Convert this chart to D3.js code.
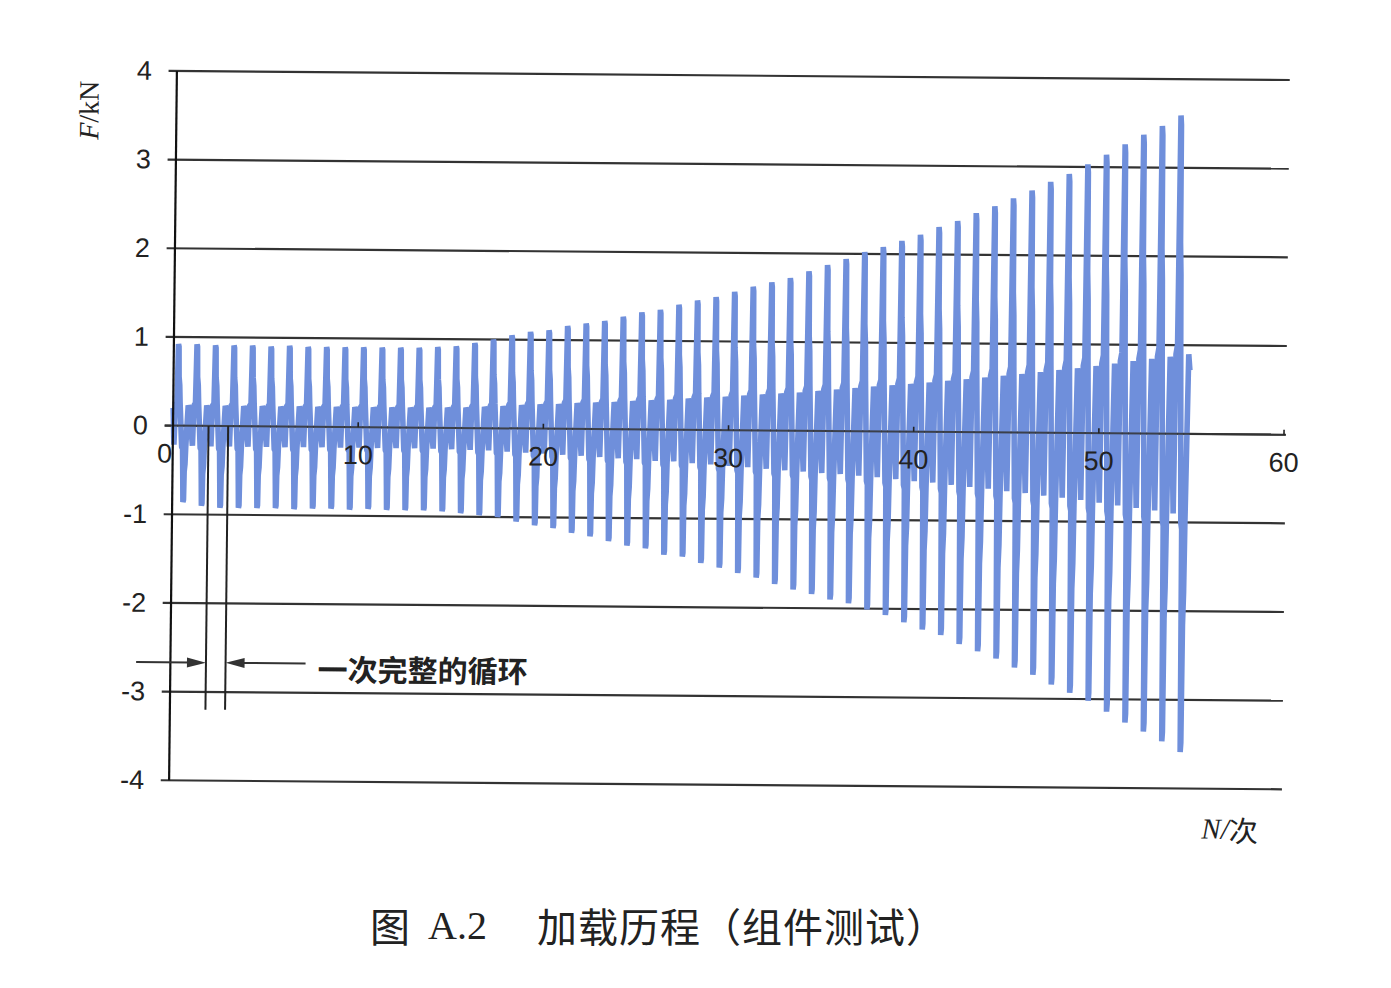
<!DOCTYPE html>
<html><head><meta charset="utf-8">
<script src="https://cdn.jsdelivr.net/npm/d3@7"></script>
<style>body{margin:0;background:#fff} svg{display:block}</style>
</head><body><svg id="c" width="1391" height="988"></svg>
<script>
// ---- data ----
const cycleIndex = d3.range(55); // loading cycles N = 0..54
const peakValues = [0.92,0.92,0.91,0.91,0.91,0.90,0.91,0.90,0.90,0.90,0.90,0.90,0.90,0.90,0.91,0.92,0.96,1.00,1.05,1.09,1.11,1.16,1.19,1.22,1.27,1.32,1.35,1.41,1.46,1.50,1.56,1.62,1.67,1.72,1.80,1.87,1.94,2.02,2.08,2.15,2.22,2.31,2.38,2.47,2.55,2.64,2.73,2.83,2.92,3.03,3.14,3.26,3.37,3.47,3.59];
const troughValues = [-0.86,-0.90,-0.92,-0.92,-0.92,-0.92,-0.93,-0.92,-0.92,-0.93,-0.92,-0.93,-0.93,-0.93,-0.94,-0.96,-0.98,-1.00,-1.05,-1.09,-1.12,-1.17,-1.21,-1.26,-1.31,-1.34,-1.41,-1.43,-1.50,-1.55,-1.61,-1.66,-1.73,-1.79,-1.84,-1.90,-1.94,-2.01,-2.07,-2.15,-2.23,-2.29,-2.39,-2.47,-2.55,-2.65,-2.73,-2.84,-2.93,-3.02,-3.14,-3.26,-3.36,-3.47,-3.59];
// samples inside one cycle: phase within the cycle, and fraction of that cycle's peak (+) / trough (-)
const cyclePhase = [0.06,0.12,0.20,0.23,0.25,0.28,0.30,0.34,0.37,0.48,0.53,0.56,0.58,0.61,0.63,0.67,0.70,0.81,0.88];
const cycleFrac  = [-0.25,0.25,0.28,0.70,1.00,0.97,0.60,0.50,0.28,-0.28,-0.30,-0.70,-1.00,-0.97,-0.60,-0.50,-0.28,0.25,0.20];
const xTicks = [0,10,20,30,40,50,60];
const yTicks = [4,3,2,1,0,-1,-2,-3,-4];
const yLabels = ["4","3","2","1","0","-1","-2","-3","-4"];
const annotText = "一次完整的循环";
const cycleMarks = [1.92, 2.98];

// ---- drawing ----
const svg = d3.select("#c");
const x = d3.scaleLinear().domain([0,60]).range([173,1284]);
const y = d3.scaleLinear().domain([-4,4]).range([780.3,71]);
const px = x(0), py = y(0);
const g = svg.append("g")
  .attr("transform", `translate(${px},${py}) matrix(1,0.0081,-0.011,1,0,0) translate(${-px},${-py})`);

// grid lines
g.selectAll("line.grid").data(yTicks).join("line")
  .attr("x1", x(-0.45)).attr("x2", x(60.1))
  .attr("y1", d=>y(d)).attr("y2", d=>y(d))
  .attr("stroke","#333").attr("stroke-width",2.2);

// signal
const pts = [[0,0.2]];
cycleIndex.forEach(i=>{
  cyclePhase.forEach((ph,k)=>{
    const f = cycleFrac[k];
    pts.push([i+ph, f>=0 ? f*peakValues[i] : -f*troughValues[i]]);
  });
});
const line = d3.line().x(d=>x(d[0])).y(d=>y(d[1]));
g.append("path").attr("d", line(pts))
  .attr("fill","none").attr("stroke","#6f8fdb").attr("stroke-width",5.6)
  .attr("stroke-linejoin","bevel");

// zero line over the signal
g.append("line").attr("x1",x(-0.45)).attr("x2",x(60.1)).attr("y1",y(0)).attr("y2",y(0))
  .attr("stroke","#333").attr("stroke-width",2).attr("opacity",0.85);

// y axis
g.append("line").attr("x1",x(0)).attr("x2",x(0)).attr("y1",y(4)).attr("y2",y(-4))
  .attr("stroke","#111").attr("stroke-width",2.2);

// x ticks
g.selectAll("line.xt").data(xTicks.slice(1)).join("line")
  .attr("x1",d=>x(d)).attr("x2",d=>x(d)).attr("y1",y(0)).attr("y2",y(0)-5)
  .attr("stroke","#222").attr("stroke-width",1.6);

// x labels
g.selectAll("text.xl").data(xTicks).join("text")
  .attr("x",d=> d===0 ? x(d)-8 : x(d)).attr("y",y(0)+28)
  .attr("text-anchor","middle").attr("dominant-baseline","central")
  .attr("font-family","Liberation Sans, Arial, sans-serif").attr("font-size",27)
  .attr("fill","#222").text(d=>d);

// y labels
g.selectAll("text.yl").data(yTicks).join("text")
  .attr("x",x(0)-25).attr("y",d=>y(d))
  .attr("text-anchor","end").attr("dominant-baseline","central")
  .attr("font-family","Liberation Sans, Arial, sans-serif").attr("font-size",27)
  .attr("fill","#222").text((d,i)=>yLabels[i]);

// axis titles
g.append("text").attr("transform",`translate(${x(0)-88},${y(3.55)}) rotate(-90)`)
  .attr("text-anchor","middle").attr("dominant-baseline","central")
  .attr("font-family","Liberation Serif, Times New Roman, serif").attr("font-size",28).attr("fill","#222")
  .call(t=>{t.append("tspan").attr("font-style","italic").text("F");t.append("tspan").text("/kN");});
g.append("text").attr("x",x(57.3)).attr("y",y(-4.45)).attr("text-anchor","middle").attr("dominant-baseline","central")
  .attr("font-size",29).attr("fill","#222")
  .call(t=>{t.append("tspan").attr("font-family","Liberation Serif, serif").attr("font-style","italic").text("N/");
            t.append("tspan").attr("font-family","Noto Sans CJK SC, sans-serif").text("次");});

// cycle annotation
g.selectAll("line.cm").data(cycleMarks).join("line")
  .attr("x1",d=>x(d)).attr("x2",d=>x(d)).attr("y1",y(0)).attr("y2",y(-3.2))
  .attr("stroke","#222").attr("stroke-width",2);
const ay = y(-2.67);
g.append("line").attr("x1",x(-1.85)).attr("x2",x(cycleMarks[0])-16).attr("y1",ay).attr("y2",ay)
  .attr("stroke","#333").attr("stroke-width",2);
g.append("path").attr("d",`M${x(cycleMarks[0])},${ay} l-19,-5 l0,10 z`).attr("fill","#333");
g.append("line").attr("x1",x(cycleMarks[1])+16).attr("x2",x(7.3)).attr("y1",ay).attr("y2",ay)
  .attr("stroke","#333").attr("stroke-width",2);
g.append("path").attr("d",`M${x(cycleMarks[1])},${ay} l19,-5 l0,10 z`).attr("fill","#333");
g.append("text").attr("x",x(7.95)).attr("y",y(-2.72)).attr("dominant-baseline","central")
  .attr("font-family","Noto Sans CJK SC, sans-serif").attr("font-weight",700).attr("font-size",30)
  .attr("fill","#222").text(annotText);

// caption
const cap = svg.append("text").attr("y",925).attr("dominant-baseline","central").attr("font-size",40).attr("fill","#222");
cap.append("tspan").attr("x",370).attr("font-family","Noto Sans CJK SC, sans-serif").text("图");
cap.append("tspan").attr("x",428).attr("font-family","Liberation Serif, serif").text("A.2");
cap.append("tspan").attr("x",537).attr("font-family","Noto Sans CJK SC, sans-serif").attr("letter-spacing",1).text("加载历程（组件测试）");
</script></body></html>
